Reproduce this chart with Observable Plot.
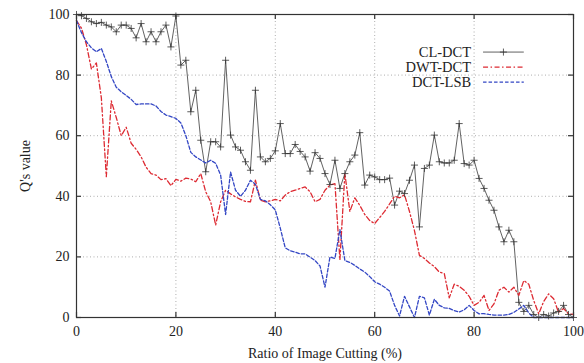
<!DOCTYPE html>
<html><head><meta charset="utf-8">
<script src="https://cdn.jsdelivr.net/npm/d3@7"></script>
<script src="https://cdn.jsdelivr.net/npm/@observablehq/plot@0.6"></script>
<style>
body{margin:0;background:#fff;}
#chart{width:584px;height:363px;}
#chart svg, #chart svg text {font-family: "Liberation Serif", serif !important;}
</style></head><body><div id="chart"></div>
<script>
const seriesNames = ["CL-DCT", "DWT-DCT", "DCT-LSB"];
// Q's value at cutting ratio 0,1,2,...,100 (%)
const clDct = [100,99.6,98.7,97.6,97,97.4,96.5,95.9,94.3,96.5,96.5,95.4,92.3,97,91,94.3,91,94.3,96.5,89.3,
  99.5,83.3,84.9,67.9,75,58.5,48.1,58,58,56.3,84.9,60.2,56.3,55.2,51.4,48.6,75,53,51.4,52.5,
  55,64,54.1,54.1,57.1,54.8,53,48.3,54.4,52.5,47.5,43.9,51.9,42.6,47.5,51.4,53.6,61,43.7,47,
  46.4,45.5,45.5,46,37.1,41.7,40.9,45.3,50.3,29.9,49.2,50.3,60.2,51.4,51,51,51.9,64,50.8,50.3,
  51.9,45.9,42.6,38.7,35.4,29.9,25,28.8,25,5,2,4,1,0,1,0.5,1.5,2,4,1,0];
const dwtDct = [98,95.5,90,82,84,72.5,46.5,71.5,66,60,62.8,57.5,55.5,53,49.6,47.5,47,45.5,45.8,43.5,
  45.6,45,46,45.7,44.8,47.5,41.5,38.2,30.5,38.2,42,40.8,39.8,39,38.3,38.2,45.3,38.7,38.2,38.5,
  39,38.5,40.4,41.5,42,42.6,43.1,41.5,38.2,39,42,43.7,44.2,19,47.5,35,39.5,37,34,32,
  31,33,35,37.5,40,39.5,40.5,35,28.7,20.5,19.5,18,16.8,15,14.5,6.5,11,10.3,9,7,
  4,5,7.3,2.3,4.5,9,10,8.4,10,7.3,12.2,11,5.6,1.2,5.3,7.8,6.2,1.7,3,1.2,1];
const dctLsb = [98,94,91,89,87.7,88.8,84.5,79.5,76,74.5,73.3,72,70.3,70.5,70.5,70.5,69.8,68,66.8,66.3,
  65.7,64.2,60,54.5,53,52,51,51.9,50.9,47,34,48,42,40,42,45.3,44,39,38.5,37.2,
  35.5,29.5,23,22,21.6,21,21,19.9,18.8,17,10,20,19.5,29,18.8,18.2,17.2,16,15,13.5,
  11.8,11,10,8.7,4,0.5,7,3.5,0,7,6.5,0.8,6,4,3.2,3,2.3,1.8,2.5,4,
  2.3,1.2,1.3,1,0.8,0.8,0.8,1,1.7,2.8,4,1.5,0,0,0,0,0,0,0,0,0];
const xTicks = [0, 20, 40, 60, 80, 100];
const yTicks = [0, 20, 40, 60, 80, 100];

const toRows = arr => arr.map((v, i) => ({x: i, y: v}));
const seriesData = [clDct, dwtDct, dctLsb].map(toRows);

const FONT = "Liberation Serif, serif";
const colors = ["#505050", "#dd2a32", "#3346c4"];
const dashes = [null, "5,2.5,1.5,2.5", "3.5,2"];

// legend layout (in axis units)
const legendLayout = {textX: 79.4, x1: 81.8, x2: 90, ys: [87.6, 82.6, 77.7]};
const legendRows = seriesNames.map((name, i) => ({name, i, y: legendLayout.ys[i]}));

const PW = 584 - 76 - 11, PH = 363 - 14 - 46;

const marks = [
  Plot.gridX(xTicks, {stroke: "#9a9a9a", strokeOpacity: 1, strokeDasharray: "1,2.5", strokeWidth: 0.8}),
  Plot.gridY(yTicks, {stroke: "#9a9a9a", strokeOpacity: 1, strokeDasharray: "1,2.5", strokeWidth: 0.8}),
  Plot.ruleX(xTicks, {x: d => d, insetTop: PH - 5, stroke: "#333", strokeWidth: 1.2}),
  Plot.ruleX(xTicks, {x: d => d, insetBottom: PH - 5, stroke: "#333", strokeWidth: 1.2}),
  Plot.ruleY(yTicks, {y: d => d, insetRight: PW - 5, stroke: "#333", strokeWidth: 1.2}),
  Plot.ruleY(yTicks, {y: d => d, insetLeft: PW - 5, stroke: "#333", strokeWidth: 1.2}),
  Plot.axisX({ticks: xTicks, tickSize: 0, tickPadding: 9, label: "Ratio of Image Cutting (%)",
    labelAnchor: "center", labelArrow: "none", labelOffset: 40, fill: "#222", fontSize: 14, fontFamily: FONT}),
  Plot.axisY({ticks: yTicks, tickSize: 0, tickPadding: 7, label: "Q's value",
    labelAnchor: "center", labelArrow: "none", labelOffset: 56, fill: "#222", fontSize: 14, fontFamily: FONT}),
];
seriesData.forEach((rows, k) => {
  marks.push(Plot.line(rows, {x: "x", y: "y", stroke: colors[k], strokeWidth: k === 0 ? 0.9 : 1.3,
    strokeDasharray: dashes[k], curve: "linear"}));
});
marks.push(Plot.dot(seriesData[0], {x: "x", y: "y", symbol: "plus", r: 2.4, stroke: "#333", strokeWidth: 0.8}));
// legend
marks.push(Plot.text(legendRows, {x: () => legendLayout.textX, y: "y", text: "name", textAnchor: "end",
  fontSize: 14.5, fill: "#222", fontFamily: FONT}));
legendRows.forEach(r => {
  marks.push(Plot.link([r], {x1: () => legendLayout.x1, x2: () => legendLayout.x2, y1: "y", y2: "y",
    stroke: colors[r.i], strokeWidth: r.i === 0 ? 0.9 : 1.3, strokeDasharray: dashes[r.i]}));
});
marks.push(Plot.dot([legendRows[0]], {x: () => (legendLayout.x1 + legendLayout.x2) / 2, y: "y",
  symbol: "plus", r: 2.4, stroke: "#333", strokeWidth: 0.8}));
marks.push(Plot.frame({stroke: "#333", strokeWidth: 1.2}));

const chart = Plot.plot({
  width: 584, height: 363,
  marginLeft: 76, marginRight: 11, marginTop: 14, marginBottom: 46,
  x: {domain: [0, 100]},
  y: {domain: [0, 100]},
  style: {fontFamily: FONT, fontSize: "14px", color: "#222", background: "#fff"},
  marks
});
document.getElementById("chart").appendChild(chart);
</script>
</body></html>
